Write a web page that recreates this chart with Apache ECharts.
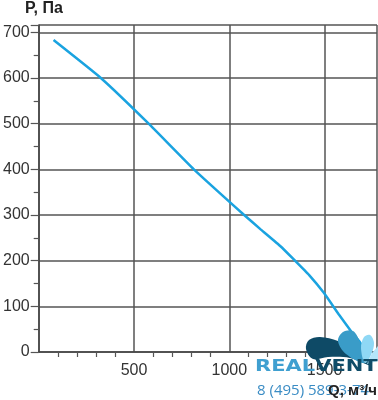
<!DOCTYPE html>
<html>
<head>
<meta charset="utf-8">
<script src="https://cdn.jsdelivr.net/npm/echarts@6/dist/echarts.min.js"></script>
<style>
  html, body { margin: 0; padding: 0; background: #fff; }
  #FanChart { width: 378px; height: 400px; }
</style>
</head>
<body>
<div id="FanChart"></div>
<script>
// airflow Q, m3/h and pressure P, Pa
const flowQ = [78, 326, 577, 814, 1078, 1166, 1270, 1340, 1418, 1497, 1575, 1640, 1688, 1715];
const pressureP = [683, 600, 500, 400, 300, 268, 231, 202, 169, 129, 82, 45, 20, 0];
const xTickLabels = ["500", "1000", "1500"];
const yTickLabels = ["0", "100", "200", "300", "400", "500", "600", "700"];

const curve = flowQ.map((q, i) => [q, pressureP[i]]);
const gridColor = "#555";

const chart = echarts.init(document.getElementById("FanChart"));

const option = {
  animation: false,
  grid: { left: 37, top: 25, right: 1, bottom: 48 },
  xAxis: {
    type: "value",
    min: 0,
    max: 1775,
    interval: 500,
    axisLine: { show: true, onZero: false, lineStyle: { color: "#444", width: 1.5 } },
    axisTick: { show: false },
    minorTick: { show: true, splitNumber: 5, length: 5, lineStyle: { color: "#555", width: 1.2 } },
    splitLine: { show: true, lineStyle: { color: gridColor, width: 1.5 } },
    axisLabel: {
      margin: 11,
      fontSize: 16,
      color: "#333",
      fontFamily: "Liberation Sans",
      showMaxLabel: false,
      formatter: (v) => (xTickLabels.includes(String(v)) ? String(v) : ""),
    },
  },
  yAxis: {
    type: "value",
    min: 0,
    max: 716,
    interval: 100,
    axisLine: { show: true, lineStyle: { color: "#444", width: 1.5 } },
    axisTick: { show: true, length: 8, lineStyle: { color: "#555", width: 1.2 } },
    minorTick: { show: true, splitNumber: 2, length: 5, lineStyle: { color: "#555", width: 1.2 } },
    splitLine: { show: true, lineStyle: { color: gridColor, width: 1.5 } },
    axisLabel: {
      margin: 9,
      fontSize: 16,
      color: "#333",
      fontFamily: "Liberation Sans",
      showMaxLabel: false,
      formatter: (v) => (yTickLabels.includes(String(v)) ? String(v) : ""),
    },
  },
  series: [
    {
      type: "line",
      data: curve,
      showSymbol: false,
      smooth: 0.12,
      z: 3,
      lineStyle: { color: "#1aa3e0", width: 2.5 },
    },
  ],
  graphic: [
    {
      type: "text",
      left: 25,
      top: 1,
      style: { text: "P, Па", font: "bold 16px 'Liberation Sans'", fill: "#222" },
    },
    // watermark logo
    {
      type: "polygon",
      z: 9,
      shape: {
        smooth: 0.35,
        points: [[306, 349], [309, 340], [320, 337], [338, 341], [355, 351], [372, 366], [350, 358], [328, 357], [313, 359]],
      },
      style: { fill: "#0e4a66" },
    },
    {
      type: "polygon",
      z: 9,
      shape: { smooth: 0.35, points: [[364, 363], [346, 354], [338, 341], [343, 332], [353, 331], [360, 342], [363, 353]] },
      style: { fill: "#3a9cc8" },
    },
    {
      type: "polygon",
      z: 9,
      shape: { smooth: 0.35, points: [[365, 363], [361, 348], [364, 337], [370, 335], [374, 343], [371, 355]] },
      style: { fill: "#8fd8f5" },
    },
    {
      type: "polygon",
      z: 9,
      shape: { points: [[367, 364], [372, 353], [378, 346], [378, 361]] },
      style: { fill: "#b5e6fa" },
    },
    {
      type: "text",
      z: 10,
      x: 255,
      y: 360,
      scaleX: 1.4,
      style: {
        text: "{a|REAL}{b|VENT}",
        rich: {
          a: { font: "900 15px 'DejaVu Sans'", fill: "#3f9fd0", color: "#3f9fd0" },
          b: { font: "900 15px 'DejaVu Sans'", fill: "#0f4c68", color: "#0f4c68" },
        },
      },
    },
    {
      type: "text",
      z: 10,
      left: 257,
      top: 383,
      style: { text: "8 (495) 589-3-74", font: "15px 'Open Sans'", fill: "#3a8cc4" },
    },
    {
      type: "text",
      z: 11,
      right: 1,
      top: 383,
      style: { text: "Q, м³/ч", font: "bold 15px 'Liberation Sans'", fill: "#222" },
    },
  ],
};

chart.setOption(option);
</script>
</body>
</html>
